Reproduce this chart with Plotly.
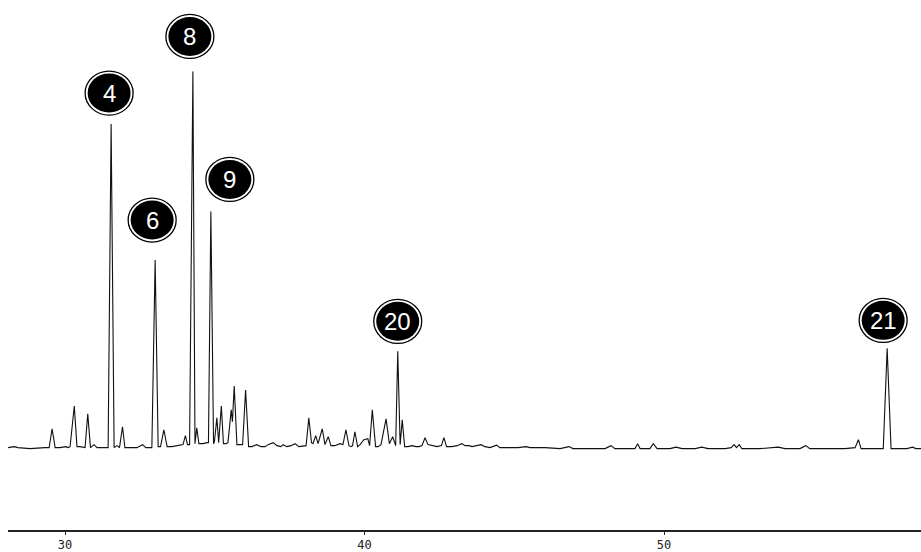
import plotly.graph_objects as go

# Chromatogram trace: retention time (min) and detector signal (mV)
rt = [
    28.10, 28.30, 28.43, 28.83, 29.33, 29.47, 29.57, 29.67, 29.83, 30.03,
    30.10, 30.17, 30.31, 30.40, 30.50, 30.67, 30.76, 30.85, 30.97, 31.07,
    31.20, 31.34, 31.44, 31.54, 31.64, 31.74, 31.82, 31.92, 32.00, 32.17,
    32.40, 32.59, 32.70, 32.90, 33.01, 33.11, 33.19, 33.30, 33.41, 33.57,
    33.77, 33.94, 34.02, 34.09, 34.16, 34.27, 34.34, 34.40, 34.47, 34.61,
    34.74, 34.79, 34.87, 34.96, 34.99, 35.07, 35.13, 35.22, 35.29, 35.38,
    35.44, 35.55, 35.59, 35.65, 35.74, 35.84, 35.93, 36.03, 36.13, 36.24,
    36.40, 36.54, 36.68, 36.78, 36.95, 37.08, 37.21, 37.28, 37.41, 37.55,
    37.68, 37.81, 37.95, 38.05, 38.14, 38.23, 38.28, 38.37, 38.45, 38.59,
    38.68, 38.79, 38.88, 39.01, 39.18, 39.28, 39.38, 39.48, 39.55, 39.60,
    39.68, 39.77, 39.85, 39.98, 40.11, 40.17, 40.26, 40.37, 40.45, 40.55,
    40.72, 40.83, 40.94, 41.04, 41.11, 41.19, 41.26, 41.34, 41.45, 41.59,
    41.72, 41.82, 41.92, 42.02, 42.12, 42.25, 42.42, 42.57, 42.65, 42.74,
    42.92, 43.09, 43.25, 43.36, 43.49, 43.59, 43.76, 43.89, 44.02, 44.19,
    44.41, 44.52, 44.86, 45.13, 45.39, 45.53, 46.03, 46.53, 46.83, 46.96,
    47.53, 48.03, 48.23, 48.36, 48.86, 49.03, 49.12, 49.20, 49.53, 49.64,
    49.77, 50.20, 50.40, 50.60, 51.04, 51.26, 51.47, 52.04, 52.24, 52.34,
    52.42, 52.51, 52.60, 53.20, 53.81, 54.04, 54.54, 54.73, 54.87, 55.54,
    56.04, 56.38, 56.49, 56.58, 56.88, 57.05, 57.32, 57.45, 57.58, 57.88,
    58.11, 58.30, 58.41, 58.58,
]
signal = [
    1, 2, 1, 0, 1, 1, 20, 1, 1, 2,
    1, 2, 43, 2, 2, 1, 35, 1, 4, 1,
    1, 1, 1, 327, 1, 3, 1, 22, 1, 1,
    1, 4, 1, 1, 190, 2, 2, 19, 2, 2,
    3, 4, 13, 4, 4, 380, 5, 21, 5, 5,
    6, 6, 239, 5, 7, 31, 6, 43, 5, 5,
    6, 39, 27, 63, 4, 4, 4, 59, 2, 2,
    4, 2, 2, 4, 6, 3, 2, 4, 2, 3,
    5, 2, 3, 3, 31, 6, 5, 13, 5, 20,
    4, 12, 3, 3, 5, 4, 19, 3, 2, 3,
    17, 2, 4, 9, 10, 3, 39, 2, 2, 4,
    30, 5, 12, 3, 98, 4, 29, 2, 2, 3,
    2, 2, 3, 11, 4, 3, 2, 3, 11, 2,
    2, 3, 5, 3, 3, 2, 3, 4, 2, 1,
    3.5, 1, 1, 1, 2, 1, 1, 0, 2, 0,
    0, 0, 3, 0, 0, 0, 5, 0, 0, 5,
    0, 0, 1.5, 0, 0, 1.5, 0, 0, 1, 4,
    1, 4, 0, 0, 1.5, 0, 0, 3, 0, 0,
    0, 1, 9, 0, 0, 0, 0, 101, 0, 0,
    0, 1.5, 0, 0,
]

# Identified peaks (peak number, retention time in min)
peak_ids = ["4", "6", "8", "9", "20", "21"]
peak_rt = [31.54, 33.01, 34.27, 34.87, 41.11, 57.45]

# Badge placement relative to each peak apex, in screen pixels (dx, dy up)
badge_offset = {
    "4": (-2, 31), "6": (-3, 40), "8": (-3, 35),
    "9": (19, 32), "20": (0, 30), "21": (-4, 28),
}

fig = go.Figure()
fig.add_trace(go.Scatter(
    x=rt, y=signal, mode="lines",
    line=dict(color="#111111", width=1.1),
    hoverinfo="skip", showlegend=False,
))

shapes = []
annotations = []
for pid, t in zip(peak_ids, peak_rt):
    apex = max(s for r, s in zip(rt, signal) if abs(r - t) < 0.03)
    dx, dy = badge_offset[pid]
    common = dict(type="circle", xref="x", yref="y",
                  xsizemode="pixel", ysizemode="pixel",
                  xanchor=t, yanchor=apex, layer="above")
    # thin outer ring with a white gap, then the filled black disc
    shapes.append(dict(common, x0=dx - 24, x1=dx + 24, y0=dy - 22, y1=dy + 22,
                       fillcolor="white", line=dict(color="black", width=1.3)))
    shapes.append(dict(common, x0=dx - 21.5, x1=dx + 21.5, y0=dy - 19.5, y1=dy + 19.5,
                       fillcolor="black", line=dict(width=0)))
    annotations.append(dict(
        x=t, y=apex, xref="x", yref="y", xshift=dx, yshift=dy,
        text=pid, showarrow=False, xanchor="center", yanchor="middle",
        font=dict(family="Arial, Liberation Sans, sans-serif", size=24, color="white"),
    ))

fig.update_layout(
    width=921, height=552,
    margin=dict(l=8, r=0, t=0, b=18),
    paper_bgcolor="white", plot_bgcolor="white",
    shapes=shapes, annotations=annotations,
    xaxis=dict(
        range=[28.097, 58.58], showgrid=False, zeroline=False,
        showline=True, linecolor="#222222", linewidth=2,
        ticks="outside", ticklen=3, tickwidth=1, tickcolor="#222222",
        tickvals=[30, 40, 50], ticktext=["30", "40", "50"],
        tickfont=dict(family="DejaVu Sans Mono, monospace", size=12, color="#222222"),
    ),
    yaxis=dict(range=[-82, 452], visible=False),
)

fig.write_html("out.html")
